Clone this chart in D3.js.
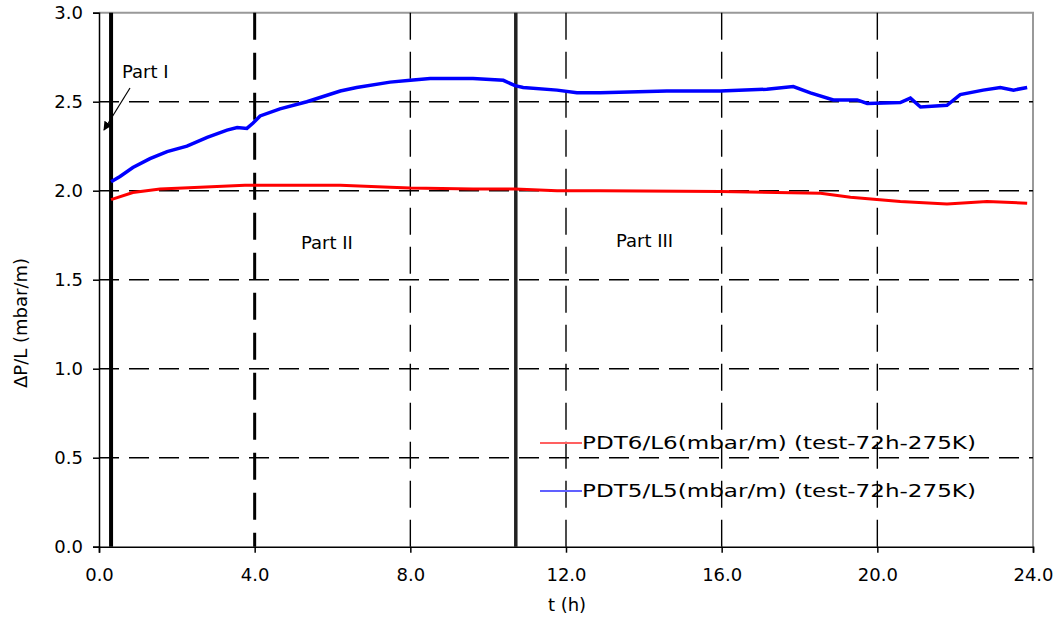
<!DOCTYPE html>
<html><head><meta charset="utf-8">
<script src="https://cdn.jsdelivr.net/npm/d3@7"></script>
<style>body{margin:0;background:#fff}svg{display:block}text{font-family:"DejaVu Sans",Verdana,sans-serif;fill:#000}</style>
</head><body><svg id="c" width="1055" height="619"></svg>
<script>
const xTicks = [0, 4, 8, 12, 16, 20, 24];
const yTicks = [0, 0.5, 1.0, 1.5, 2.0, 2.5, 3.0];
const blueT = [0.31,0.54,0.87,1.31,1.75,2.26,2.78,3.29,3.55,3.80,3.96,4.14,4.65,5.34,6.20,6.62,7.48,8.0,8.51,9.61,10.39,10.69,10.90,11.77,12.28,12.88,14.59,15.96,17.16,17.84,18.28,18.87,19.48,19.74,20.59,20.85,21.11,21.79,22.13,22.72,23.16,23.50,23.85];
const blueV = [2.05,2.08,2.13,2.18,2.22,2.25,2.30,2.34,2.355,2.35,2.38,2.42,2.46,2.50,2.56,2.58,2.61,2.62,2.63,2.63,2.62,2.59,2.58,2.565,2.55,2.55,2.56,2.56,2.57,2.585,2.55,2.51,2.51,2.49,2.495,2.52,2.47,2.48,2.54,2.565,2.58,2.565,2.58];
const redT = [0.31,0.87,1.57,2.60,3.75,4.47,6.20,7.48,8.0,9.61,10.69,11.77,12.88,15.96,18.54,19.31,20.59,21.79,22.82,23.85];
const redV = [1.95,1.99,2.01,2.02,2.03,2.03,2.03,2.02,2.015,2.01,2.01,2.00,2.00,1.995,1.985,1.963,1.94,1.925,1.94,1.93];
const partLines = [0.31, 4.0, 10.71];
const seriesNames = ["PDT6/L6(mbar/m) (test-72h-275K)", "PDT5/L5(mbar/m) (test-72h-275K)"];

const svg = d3.select("#c");
const L = 99, R = 1033, T = 12.7, B = 546.7;
const FS = "18px";
const x = d3.scaleLinear().domain([0, 24]).range([L, R]);
const y = d3.scaleLinear().domain([0, 3]).range([B, T]);

svg.append("path").attr("d", `M${L},${T}H${R}V${B}`).attr("fill","none").attr("stroke","#999").attr("stroke-width",2);

svg.append("g").selectAll("line").data(yTicks.filter(d=>d>0 && d<3)).join("line")
  .attr("x1", L).attr("x2", R).attr("y1", d=>y(d)).attr("y2", d=>y(d))
  .attr("stroke","#000").attr("stroke-width",1.4).attr("stroke-dasharray","20,10");
svg.append("g").selectAll("line").data([8,12,16,20]).join("line")
  .attr("y1", T).attr("y2", B).attr("x1", d=>x(d)).attr("x2", d=>x(d))
  .attr("stroke","#000").attr("stroke-width",1.4).attr("stroke-dasharray","27,12");

svg.append("line").attr("x1",x(partLines[0])).attr("x2",x(partLines[0])).attr("y1",T).attr("y2",B).attr("stroke","#000").attr("stroke-width",4);
svg.append("line").attr("x1",x(partLines[1])).attr("x2",x(partLines[1])).attr("y1",T).attr("y2",B).attr("stroke","#000").attr("stroke-width",3).attr("stroke-dasharray","27,13");
svg.append("line").attr("x1",x(partLines[2])).attr("x2",x(partLines[2])).attr("y1",T).attr("y2",B).attr("stroke","#222").attr("stroke-width",3.5);

const ya = svg.append("g").attr("transform",`translate(${L},0)`)
  .call(d3.axisLeft(y).tickValues(yTicks).tickFormat(d3.format(".1f")).tickSize(6).tickPadding(10));
const xa = svg.append("g").attr("transform",`translate(0,${B})`)
  .call(d3.axisBottom(x).tickValues(xTicks).tickFormat(d3.format(".1f")).tickSize(6).tickPadding(16));
[ya, xa].forEach(a => {
  a.selectAll("path.domain").attr("stroke","#000").attr("stroke-width",1.5);
  a.selectAll(".tick line").attr("stroke","#000").attr("stroke-width",1.5);
  a.selectAll("text").style("font-size",FS).style("font-family","'DejaVu Sans'").attr("fill","#000");
});

const line = d3.line().x(d=>x(d[0])).y(d=>y(d[1]));
svg.append("path").datum(d3.zip(redT, redV)).attr("d", line).attr("fill","none").attr("stroke","#ff0000").attr("stroke-width",3);
svg.append("path").datum(d3.zip(blueT, blueV)).attr("d", line).attr("fill","none").attr("stroke","#0000ff").attr("stroke-width",3.5);

svg.append("text").attr("x",122).attr("y",78).style("font-size",FS).text("Part I");
svg.append("defs").append("marker").attr("id","ah").attr("viewBox","0 0 10 10").attr("refX",9).attr("refY",5)
  .attr("markerWidth",9).attr("markerHeight",9).attr("orient","auto").attr("markerUnits","userSpaceOnUse")
  .append("path").attr("d","M0,0L10,5L0,10z").attr("fill","#000");
svg.append("line").attr("x1",130).attr("y1",88).attr("x2",104).attr("y2",130).attr("stroke","#000").attr("stroke-width",1.2).attr("marker-end","url(#ah)");
svg.append("text").attr("x",301).attr("y",249).style("font-size",FS).text("Part II");
svg.append("text").attr("x",616).attr("y",247).style("font-size",FS).text("Part III");

svg.append("text").attr("x",567).attr("y",611).attr("text-anchor","middle").style("font-size",FS).text("t (h)");
svg.append("text").attr("transform","translate(27,323) rotate(-90)").attr("text-anchor","middle").style("font-size",FS).text("ΔP/L (mbar/m)");

const leg = [[seriesNames[0], "#ff6060", 443], [seriesNames[1], "#6060ff", 491]];
leg.forEach(([name, col, yy]) => {
  svg.append("line").attr("x1",540).attr("x2",582).attr("y1",yy).attr("y2",yy).attr("stroke",col).attr("stroke-width",2);
  svg.append("text").attr("x",582).attr("y",yy+6).style("font-size",FS)
    .attr("textLength",394).attr("lengthAdjust","spacingAndGlyphs").text(name);
});
</script></body></html>
